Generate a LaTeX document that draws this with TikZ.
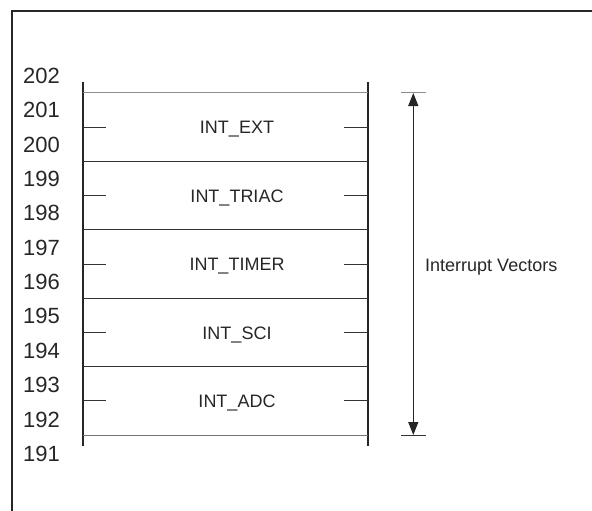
\documentclass[tikz,border=0pt]{standalone}
\usepackage{fontspec}
\setmainfont{Liberation Sans}
\usetikzlibrary{arrows.meta}
\begin{document}
\begin{tikzpicture}[x=1pt, y=-1pt,
  addr/.style={font=\fontsize{22}{25}\selectfont, inner sep=0pt, anchor=base, text=black!85},
  vec/.style={font=\fontsize{18}{21}\selectfont, inner sep=0pt, text=black!85},
  hline/.style={line width=1pt, draw=black!80},
  tickmark/.style={line width=1pt, draw=black!80},
  arr/.style={{Triangle[width=10pt,length=13pt]}-{Triangle[width=10pt,length=13pt]},
              line width=1.3pt, draw=black!85, fill=black!85},
]
\useasboundingbox (0,0) rectangle (592,511);
\clip (0,0) rectangle (592,511);

%% Outer frame (runs off the right and bottom)
\draw[line width=2pt, black!85] (11.5,11.5) rectangle (640,560);

%% Address column
\foreach \a [count=\k from 0] in {202,201,...,191}
  \node[addr] (n\a) at (41.5, 83.5+34.35*\k) {\a};

%% Vector table: walls, separators and ticks
\draw[line width=1.3pt, black!85] (83,82) -- (83,446);
\draw[line width=1.3pt, black!85] (368,82) -- (368,446);
\draw[hline, draw=black!45] (83,93) -- (368,93);
\foreach \k in {1,...,4}
  \draw[hline] (83,93+68.4*\k) -- (368,93+68.4*\k);
\draw[hline, draw=black!55] (83,435) -- (368,435);

\foreach \name [count=\k from 0] in {EXT,TRIAC,TIMER,SCI,ADC} {
  \pgfmathsetmacro\ym{127.3+68.4*\k}
  \node[vec, anchor=base] (v\name) at (237,\ym+6.5) {INT\_\name};
  \draw[tickmark] (83,\ym) -- (106,\ym);
  \draw[tickmark] (344,\ym) -- (368,\ym);
}

%% Span arrow
\coordinate (vtop) at (413.3,93);
\coordinate (vbot) at (413.3,435);
\draw[line width=1pt, black!45] (401.3,93) -- (425.7,93);
\draw[line width=1pt, black!80] (401.3,435) -- (425.7,435);
\draw[arr] (vtop) -- (vbot);
\node[vec, anchor=base west] (ivec) at (425,271.5) {Interrupt Vectors};

\end{tikzpicture}
\end{document}
